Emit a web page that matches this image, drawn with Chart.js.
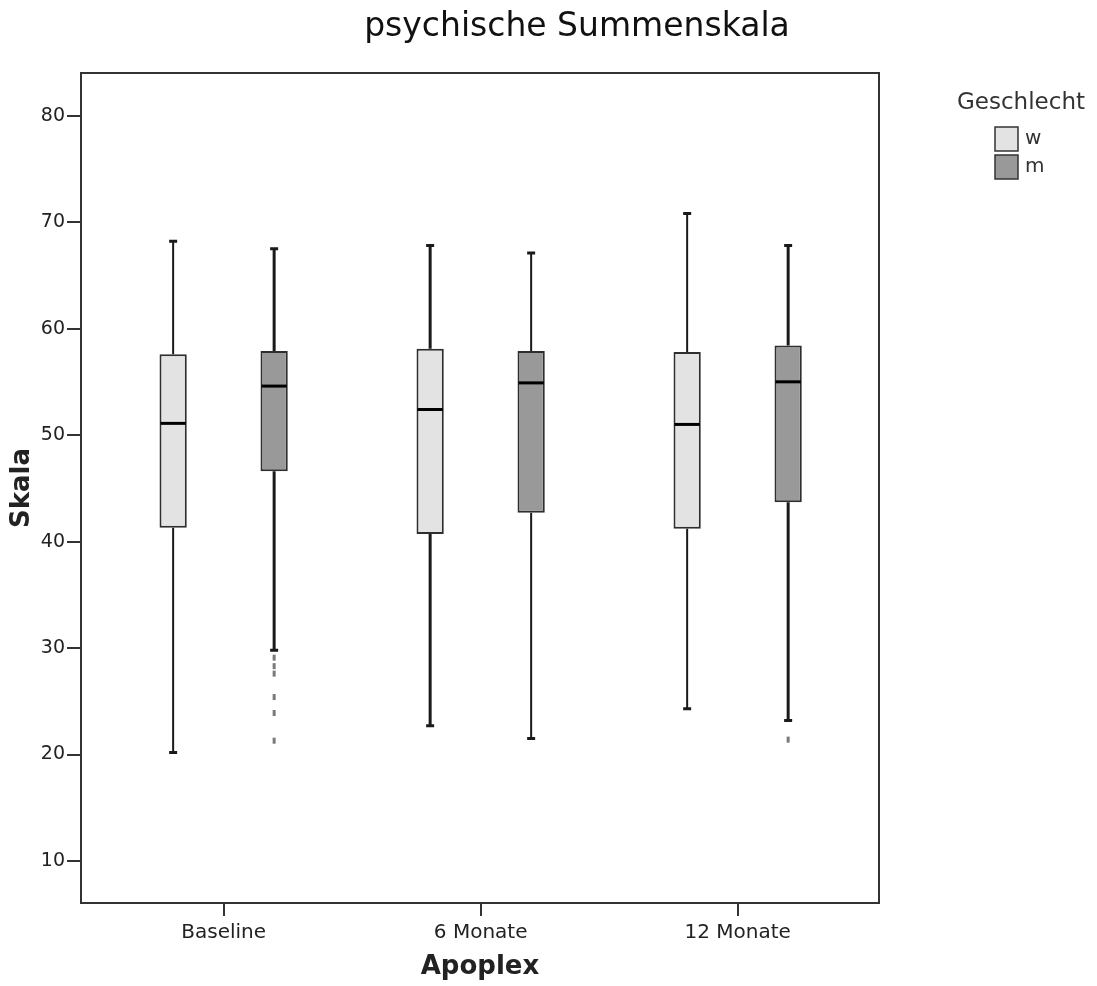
<!DOCTYPE html>
<html>
<head>
<meta charset="utf-8">
<script src="https://cdn.jsdelivr.net/npm/chart.js@4.4.1/dist/chart.umd.min.js"></script>
<style>
  html, body { margin: 0; padding: 0; background: #ffffff; }
  #wrap { width: 1097px; height: 986px; }
</style>
</head>
<body>
<div id="wrap"><canvas id="c" width="1097" height="986"></canvas></div>
<script>
// ---- data ----
const categories = ['Baseline', '6 Monate', '12 Monate'];
const seriesNames = ['w', 'm'];
const yTicks = [10, 20, 30, 40, 50, 60, 70, 80];

const wMin    = [20.2, 22.7, 24.3];
const wQ1     = [41.3, 40.7, 41.2];
const wMedian = [51.1, 52.4, 51.0];
const wQ3     = [57.6, 58.1, 57.8];
const wMax    = [68.2, 67.8, 70.8];
const wOutliers = [[], [], []];

const mMin    = [29.8, 21.5, 23.2];
const mQ1     = [46.6, 42.7, 43.7];
const mMedian = [54.6, 54.9, 55.0];
const mQ3     = [57.9, 57.9, 58.4];
const mMax    = [67.5, 67.1, 67.8];
const mOutliers = [[29.1, 28.3, 27.6, 25.4, 23.9, 21.3], [], [21.4]];

// ---- styles (kept apart from the data) ----
const fills = ['#e3e3e3', '#999999'];
const whiskerWidths = [[2, 3, 2], [3, 2, 3]];
const FONT = "'DejaVu Sans', Verdana, sans-serif";

const stats = [
  { min: wMin, q1: wQ1, med: wMedian, q3: wQ3, max: wMax, out: wOutliers },
  { min: mMin, q1: mQ1, med: mMedian, q3: mQ3, max: mMax, out: mOutliers }
];

function boxData(s) {
  return categories.map((c, i) => ({ x: i, y: [s.q1[i], s.q3[i]] }));
}

const boxPlugin = {
  id: 'boxParts',
  afterLayout(chart) {
    // centre the title where the reference has it
    if (chart.titleBlock) { chart.titleBlock.left = 57; chart.titleBlock.right = 1097; }
  },
  beforeDatasetsDraw(chart) {
    const { ctx, chartArea: a } = chart;
    ctx.save();
    ctx.strokeStyle = '#333333';
    ctx.lineWidth = 2;
    ctx.strokeRect(a.left, a.top, a.right - a.left, a.bottom - a.top);
    const ys = chart.scales.y;
    stats.forEach((s, di) => {
      const meta = chart.getDatasetMeta(di);
      meta.data.forEach((bar, i) => {
        const x = bar.x;
        ctx.strokeStyle = '#1a1a1a';
        ctx.lineWidth = whiskerWidths[di][i];
        ctx.beginPath();
        ctx.moveTo(x, ys.getPixelForValue(s.q3[i]));
        ctx.lineTo(x, ys.getPixelForValue(s.max[i]));
        ctx.moveTo(x, ys.getPixelForValue(s.q1[i]));
        ctx.lineTo(x, ys.getPixelForValue(s.min[i]));
        ctx.stroke();
        ctx.lineWidth = 3;
        ctx.beginPath();
        [s.max[i], s.min[i]].forEach(v => {
          const py = ys.getPixelForValue(v);
          ctx.moveTo(x - 4, py);
          ctx.lineTo(x + 4, py);
        });
        ctx.stroke();
        ctx.fillStyle = '#7a7a7a';
        s.out[i].forEach(v => {
          const py = ys.getPixelForValue(v);
          ctx.fillRect(x - 1.5, py - 3, 3, 6);
        });
      });
    });
    ctx.restore();
  },
  afterDatasetsDraw(chart) {
    const { ctx } = chart;
    const ys = chart.scales.y;
    ctx.save();
    stats.forEach((s, di) => {
      const meta = chart.getDatasetMeta(di);
      meta.data.forEach((bar, i) => {
        const half = bar.width / 2 - 1;
        const py = ys.getPixelForValue(s.med[i]);
        ctx.strokeStyle = '#000000';
        ctx.lineWidth = 3;
        ctx.beginPath();
        ctx.moveTo(bar.x - half, py);
        ctx.lineTo(bar.x + half, py);
        ctx.stroke();
      });
    });
    ctx.restore();
  },
  afterDraw(chart) {
    const { ctx } = chart;
    ctx.save();
    ctx.fillStyle = '#333333';
    ctx.font = '23px ' + FONT;
    ctx.textAlign = 'center';
    ctx.textBaseline = 'middle';
    ctx.fillText('Geschlecht', 1021, 103);
    chart.data.datasets.forEach((ds, i) => {
      const y = 127 + i * 28;
      ctx.fillStyle = ds.backgroundColor;
      ctx.fillRect(995, y, 23, 24);
      ctx.strokeStyle = '#333333';
      ctx.lineWidth = 1.5;
      ctx.strokeRect(995, y, 23, 24);
      ctx.fillStyle = '#333333';
      ctx.font = '20px ' + FONT;
      ctx.textAlign = 'left';
      ctx.fillText(ds.label, 1025, y + 12);
    });
    ctx.restore();
  }
};

new Chart(document.getElementById('c'), {
  type: 'bar',
  data: {
    datasets: stats.map((s, i) => ({
      label: seriesNames[i],
      data: boxData(s),
      backgroundColor: fills[i],
      borderColor: '#2e2e2e',
      borderWidth: 2,
      borderSkipped: false,
      categoryPercentage: 0.786,
      barPercentage: 0.27
    }))
  },
  options: {
    responsive: false,
    animation: false,
    devicePixelRatio: 1,
    layout: { padding: { left: 0, right: 218, top: 0, bottom: 0 } },
    plugins: {
      legend: { display: false },
      tooltip: { enabled: false },
      title: {
        display: true,
        text: 'psychische Summenskala',
        color: '#111111',
        font: { family: FONT, size: 33, weight: 'normal', lineHeight: 1.2 },
        padding: { top: 8, bottom: 25.4 }
      }
    },
    scales: {
      x: {
        type: 'linear',
        min: -0.555,
        max: 2.55,
        offset: false,
        afterBuildTicks: s => { s.ticks = categories.map((c, i) => ({ value: i })); },
        afterFit: s => { s.height = 83; },
        grid: { offset: false, drawOnChartArea: false, drawTicks: true, tickLength: 13, color: '#333333', lineWidth: 2 },
        border: { display: true, color: '#333333', width: 2 },
        ticks: {
          autoSkip: false, maxRotation: 0, padding: 5,
          color: '#222222',
          font: { family: FONT, size: 20 },
          callback: v => categories[v] !== undefined ? categories[v] : ''
        },
        title: {
          display: true, text: 'Apoplex', color: '#222222',
          font: { family: FONT, size: 26, weight: 'bold', lineHeight: 1.2 },
          padding: { top: 0, bottom: 3 }
        }
      },
      y: {
        type: 'linear',
        min: 6.06,
        max: 84,
        afterBuildTicks: s => { s.ticks = yTicks.map(v => ({ value: v })); },
        afterFit: s => { s.width = 81; },
        grid: { drawOnChartArea: false, drawTicks: true, tickLength: 14, color: '#333333', lineWidth: 2 },
        border: { display: true, color: '#333333', width: 2 },
        ticks: {
          padding: 2, color: '#222222',
          font: { family: FONT, size: 19 }
        },
        title: {
          display: true, text: 'Skala', color: '#222222',
          font: { family: FONT, size: 26, weight: 'bold', lineHeight: 1.2 },
          padding: { top: 7, bottom: 0 }
        }
      }
    }
  },
  plugins: [boxPlugin]
});
</script>
</body>
</html>
